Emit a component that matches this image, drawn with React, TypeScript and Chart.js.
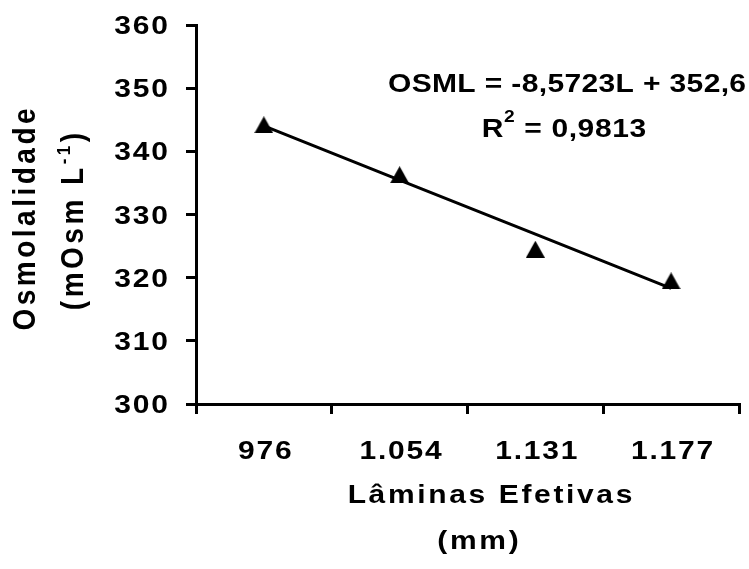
import React, { useEffect, useRef } from "react";
import { Chart, registerables } from "chart.js";

Chart.register(...registerables);

// Effective irrigation depth classes (mm) and measured osmolality (mOsm L-1)
const categories = ["976", "1.054", "1.131", "1.177"];
const osmolality = [344.2, 336.3, 324.5, 319.5];
const yTicks = [300, 310, 320, 330, 340, 350, 360];

// Fitted linear trend: OSML = slope * L + intercept, L = 1..4
const trendSlope = -8.5723;
const trendIntercept = 352.6;
const equationText = "OSML = -8,5723L + 352,6";
const rSquaredText = "0,9813";

const trendValues = categories.map((_, i) => trendIntercept + trendSlope * (i + 1));

const FONT = '"Liberation Sans", Arial, Helvetica, sans-serif';
const BLACK = "#000000";
// Wide bold lettering: glyphs are widened horizontally by this factor
const WIDEN = 1.2;

type Seg = { text: string; size: number; rise: number };
type Align = "left" | "center" | "right";

function drawRun(
  ctx: any,
  segs: Seg[],
  x: number,
  y: number,
  opts: { align: Align; spacing: number; rotate?: boolean; widen?: number }
) {
  const widen = opts.widen ?? WIDEN;
  ctx.save();
  ctx.translate(x, y);
  ctx.scale(widen, 1);
  if (opts.rotate) ctx.rotate(-Math.PI / 2);
  ctx.letterSpacing = `${opts.spacing}px`;
  ctx.textAlign = "left";
  ctx.textBaseline = "alphabetic";
  let total = 0;
  const widths = segs.map((s) => {
    ctx.font = `bold ${s.size}px ${FONT}`;
    const w = ctx.measureText(s.text).width;
    total += w;
    return w;
  });
  total -= opts.spacing;
  let cx = opts.align === "left" ? 0 : opts.align === "center" ? -total / 2 : -total;
  segs.forEach((s, i) => {
    ctx.font = `bold ${s.size}px ${FONT}`;
    ctx.fillText(s.text, cx, -s.rise);
    cx += widths[i];
  });
  ctx.restore();
}

// Solid triangle marker centred on its bounding box
function makeTriangleMarker(w: number, h: number): HTMLCanvasElement {
  const c = document.createElement("canvas");
  c.width = w;
  c.height = h;
  const g = c.getContext("2d")!;
  g.fillStyle = BLACK;
  g.beginPath();
  g.moveTo(0, h);
  g.lineTo(w / 2, 0);
  g.lineTo(w, h);
  g.closePath();
  g.fill();
  return c;
}

const labelsPlugin = {
  id: "labelsPlugin",
  afterDraw(chart: Chart) {
    const ctx = chart.ctx as any;
    const area = chart.chartArea;
    const xs: any = chart.scales.x;
    const ys: any = chart.scales.y;
    ctx.save();
    ctx.fillStyle = BLACK;

    // tick labels, placed from the scales
    categories.forEach((c, i) => {
      drawRun(ctx, [{ text: c, size: 25, rise: 0 }], xs.getPixelForTick(i) + 1, area.bottom + 54.5, {
        align: "center",
        spacing: 1.5,
      });
    });
    yTicks.forEach((v) => {
      drawRun(ctx, [{ text: String(v), size: 25, rise: 0 }], area.left - 28, ys.getPixelForValue(v) + 9, {
        align: "right",
        spacing: 1.5,
      });
    });

    // y-axis title (two rotated lines)
    const cy = (area.top + area.bottom) / 2 + 5;
    drawRun(ctx, [{ text: "Osmolalidade", size: 28, rise: 0 }], 35, cy, {
      align: "center",
      spacing: 3.5,
      rotate: true,
      widen: 1.1,
    });
    drawRun(
      ctx,
      [
        { text: "(mOsm L", size: 28, rise: 0 },
        { text: "-1", size: 17, rise: 12 },
        { text: ")", size: 28, rise: 0 },
      ],
      83,
      cy + 2,
      { align: "center", spacing: 3.5, rotate: true, widen: 1.1 }
    );

    // x-axis title
    drawRun(ctx, [{ text: "Lâminas Efetivas", size: 25, rise: 0 }], 490, 503, {
      align: "center",
      spacing: 2.2,
    });
    drawRun(ctx, [{ text: "(mm)", size: 25, rise: 0 }], 478, 549, {
      align: "center",
      spacing: 2.2,
    });

    // regression equation
    drawRun(ctx, [{ text: equationText, size: 25, rise: 0 }], 567, 92, {
      align: "center",
      spacing: 0.3,
    });
    drawRun(
      ctx,
      [
        { text: "R", size: 25, rise: 0 },
        { text: "2", size: 16, rise: 15 },
        { text: " = " + rSquaredText, size: 25, rise: 0 },
      ],
      564,
      137,
      { align: "center", spacing: 0.5 }
    );

    ctx.restore();
  },
};

export default function App() {
  const canvasRef = useRef<HTMLCanvasElement>(null);

  useEffect(() => {
    const canvas = canvasRef.current;
    if (!canvas) return;
    const marker = makeTriangleMarker(19, 17);
    const chart = new Chart(canvas, {
      type: "line",
      data: {
        labels: categories,
        datasets: [
          {
            label: "Tendência",
            data: trendValues,
            borderColor: BLACK,
            borderWidth: 3,
            pointRadius: 0,
            tension: 0,
            fill: false,
            order: 2,
          },
          {
            label: "Osmolalidade",
            data: osmolality,
            showLine: false,
            pointStyle: marker,
            pointRadius: 10,
            pointHoverRadius: 10,
            pointBackgroundColor: BLACK,
            pointBorderColor: BLACK,
            pointBorderWidth: 0,
            order: 1,
          },
        ],
      },
      options: {
        responsive: false,
        animation: false,
        devicePixelRatio: 1,
        layout: { padding: { top: 25, right: 10, left: 0, bottom: 0 } },
        plugins: {
          legend: { display: false },
          tooltip: { enabled: false },
        },
        scales: {
          x: {
            type: "category",
            offset: true,
            grid: {
              offset: true,
              drawOnChartArea: false,
              drawTicks: true,
              tickLength: 10,
              color: BLACK,
              lineWidth: 3,
            },
            border: { display: true, color: BLACK, width: 3 },
            ticks: { display: false },
            afterFit: (scale: any) => {
              scale.height = 165;
            },
          },
          y: {
            min: 300,
            max: 360,
            grid: {
              drawOnChartArea: false,
              drawTicks: true,
              tickLength: 10,
              color: BLACK,
              lineWidth: 3,
            },
            border: { display: true, color: BLACK, width: 3 },
            ticks: { display: false },
            afterBuildTicks: (scale: any) => {
              scale.ticks = yTicks.map((v) => ({ value: v }));
            },
            afterFit: (scale: any) => {
              scale.width = 196;
            },
          },
        },
      },
      plugins: [labelsPlugin],
    });
    return () => chart.destroy();
  }, []);

  return (
    <div
      style={{
        position: "absolute",
        left: 0,
        top: 0,
        width: 749,
        height: 569,
        background: "#ffffff",
      }}
    >
      <canvas ref={canvasRef} width={749} height={569} style={{ display: "block" }} />
    </div>
  );
}
